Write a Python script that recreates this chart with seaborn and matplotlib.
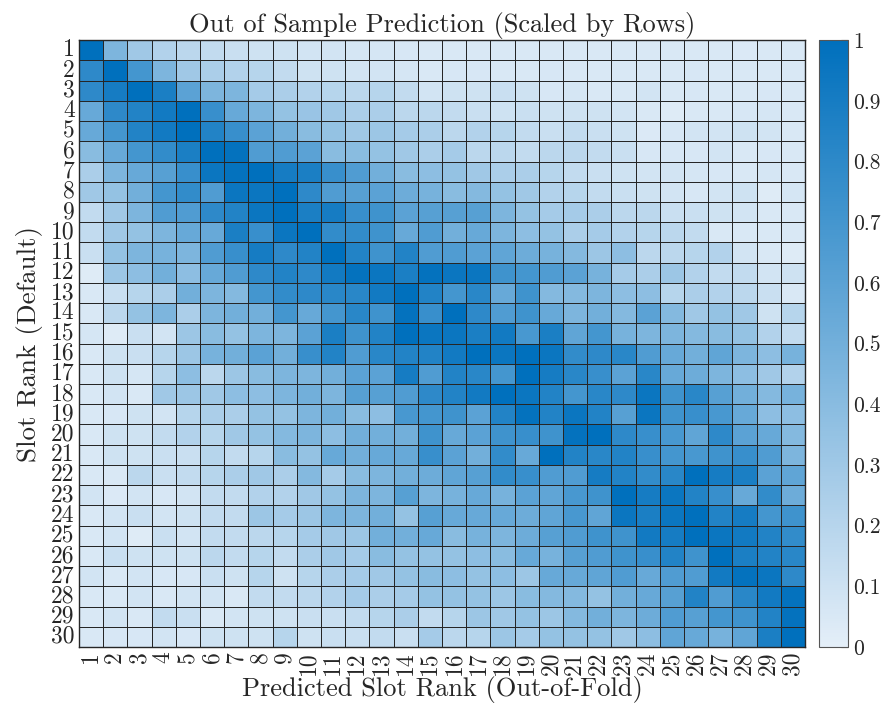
import numpy as np
import pandas as pd
import matplotlib
matplotlib.use("Agg")
import matplotlib.pyplot as plt
import seaborn as sns
from matplotlib.colors import LinearSegmentedColormap

sns.set_style("white")
plt.rcParams["font.family"] = ["cmr10", "DejaVu Serif"]
plt.rcParams["mathtext.fontset"] = "cm"
plt.rcParams["axes.unicode_minus"] = False

ranks = list(range(1, 31))

# rows 1-10
r01 = [1.0, 0.45, 0.3, 0.22, 0.18, 0.15, 0.12, 0.1, 0.1, 0.08, 0.08, 0.07, 0.07, 0.06, 0.05,
       0.05, 0.05, 0.05, 0.05, 0.05, 0.05, 0.05, 0.05, 0.05, 0.05, 0.05, 0.05, 0.04, 0.05, 0.05]
r02 = [0.8, 1.0, 0.7, 0.45, 0.3, 0.25, 0.22, 0.2, 0.15, 0.1, 0.1, 0.08, 0.08, 0.07, 0.05,
       0.06, 0.06, 0.05, 0.05, 0.06, 0.05, 0.05, 0.05, 0.05, 0.05, 0.06, 0.05, 0.05, 0.05, 0.05]
r03 = [0.8, 0.9, 1.0, 0.88, 0.6, 0.45, 0.45, 0.28, 0.25, 0.22, 0.2, 0.18, 0.2, 0.15, 0.08,
       0.1, 0.1, 0.12, 0.1, 0.06, 0.07, 0.05, 0.05, 0.08, 0.05, 0.06, 0.05, 0.05, 0.06, 0.05]
r04 = [0.55, 0.8, 0.85, 0.92, 1.0, 0.75, 0.55, 0.45, 0.35, 0.33, 0.3, 0.25, 0.25, 0.18, 0.18,
       0.15, 0.12, 0.1, 0.12, 0.1, 0.1, 0.1, 0.08, 0.05, 0.03, 0.05, 0.05, 0.06, 0.07, 0.05]
r05 = [0.55, 0.7, 0.85, 0.92, 1.0, 0.85, 0.75, 0.6, 0.5, 0.4, 0.35, 0.3, 0.32, 0.28, 0.25,
       0.18, 0.22, 0.2, 0.15, 0.12, 0.15, 0.12, 0.1, 0.04, 0.06, 0.08, 0.08, 0.1, 0.08, 0.05]
r06 = [0.4, 0.55, 0.7, 0.78, 0.88, 1.0, 0.98, 0.65, 0.65, 0.6, 0.4, 0.4, 0.35, 0.3, 0.25,
       0.28, 0.18, 0.18, 0.15, 0.18, 0.18, 0.15, 0.12, 0.06, 0.06, 0.06, 0.08, 0.05, 0.06, 0.05]
r07 = [0.25, 0.45, 0.55, 0.62, 0.75, 0.95, 0.98, 1.0, 0.9, 0.88, 0.75, 0.65, 0.5, 0.4, 0.38,
       0.35, 0.3, 0.25, 0.25, 0.2, 0.15, 0.12, 0.1, 0.08, 0.08, 0.07, 0.06, 0.05, 0.07, 0.05]
r08 = [0.3, 0.35, 0.5, 0.7, 0.78, 0.65, 0.95, 0.95, 1.0, 0.8, 0.65, 0.62, 0.6, 0.52, 0.48,
       0.4, 0.42, 0.35, 0.3, 0.22, 0.2, 0.15, 0.12, 0.1, 0.08, 0.06, 0.08, 0.1, 0.03, 0.07]
r09 = [0.15, 0.3, 0.45, 0.65, 0.65, 0.8, 0.85, 0.95, 1.0, 0.88, 0.9, 0.75, 0.72, 0.6, 0.62,
       0.62, 0.62, 0.45, 0.35, 0.28, 0.28, 0.25, 0.18, 0.18, 0.12, 0.12, 0.1, 0.08, 0.05, 0.05]
r10 = [0.15, 0.3, 0.35, 0.45, 0.55, 0.55, 0.88, 0.75, 0.95, 1.0, 0.78, 0.78, 0.72, 0.55, 0.65,
       0.5, 0.55, 0.45, 0.38, 0.35, 0.25, 0.28, 0.22, 0.2, 0.18, 0.15, 0.05, 0.05, 0.05, 0.05]
# rows 11-20
r11 = [0.12, 0.35, 0.45, 0.48, 0.45, 0.65, 0.75, 0.9, 0.8, 0.85, 1.0, 0.85, 0.72, 0.85, 0.65,
       0.65, 0.6, 0.58, 0.52, 0.48, 0.42, 0.32, 0.38, 0.18, 0.18, 0.2, 0.22, 0.08, 0.05, 0.03]
r12 = [0.03, 0.32, 0.38, 0.5, 0.38, 0.55, 0.65, 0.8, 0.85, 0.8, 0.92, 0.98, 0.95, 0.88, 0.98,
       0.95, 0.95, 0.72, 0.7, 0.65, 0.6, 0.48, 0.28, 0.25, 0.32, 0.22, 0.15, 0.15, 0.08, 0.1]
r13 = [0.05, 0.12, 0.2, 0.25, 0.5, 0.45, 0.42, 0.7, 0.78, 0.8, 0.82, 0.82, 0.92, 1.0, 0.85,
       0.7, 0.82, 0.55, 0.72, 0.42, 0.42, 0.45, 0.38, 0.38, 0.2, 0.25, 0.22, 0.18, 0.12, 0.05]
r14 = [0.05, 0.18, 0.35, 0.45, 0.25, 0.45, 0.5, 0.5, 0.7, 0.55, 0.7, 0.82, 0.72, 0.98, 0.75,
       1.0, 0.8, 0.65, 0.72, 0.55, 0.45, 0.5, 0.42, 0.6, 0.42, 0.3, 0.35, 0.3, 0.1, 0.2]
r15 = [0.07, 0.03, 0.12, 0.08, 0.32, 0.4, 0.35, 0.45, 0.45, 0.6, 0.88, 0.72, 0.85, 1.0, 0.95,
       0.95, 0.88, 0.92, 0.68, 0.88, 0.58, 0.7, 0.48, 0.45, 0.45, 0.42, 0.4, 0.35, 0.22, 0.15]
r16 = [0.05, 0.1, 0.12, 0.2, 0.32, 0.48, 0.5, 0.6, 0.5, 0.75, 0.85, 0.65, 0.82, 0.85, 0.85,
       0.92, 1.0, 0.95, 1.0, 0.95, 0.78, 0.8, 0.82, 0.65, 0.55, 0.5, 0.58, 0.45, 0.38, 0.48]
r17 = [0.05, 0.1, 0.07, 0.2, 0.38, 0.18, 0.32, 0.4, 0.45, 0.45, 0.5, 0.6, 0.6, 0.9, 0.65,
       0.85, 0.82, 0.7, 1.0, 0.9, 0.82, 0.75, 0.6, 0.82, 0.55, 0.52, 0.45, 0.38, 0.3, 0.22]
r18 = [0.05, 0.08, 0.05, 0.3, 0.32, 0.3, 0.38, 0.38, 0.45, 0.5, 0.45, 0.62, 0.62, 0.65, 0.8,
       0.85, 0.92, 1.0, 0.95, 0.85, 0.7, 0.82, 0.8, 0.95, 0.72, 0.82, 0.62, 0.5, 0.42, 0.48]
r19 = [0.05, 0.06, 0.1, 0.08, 0.2, 0.25, 0.25, 0.35, 0.35, 0.45, 0.5, 0.4, 0.38, 0.68, 0.7,
       0.72, 0.6, 0.85, 0.98, 0.85, 0.95, 0.85, 0.62, 0.95, 0.72, 0.75, 0.68, 0.55, 0.38, 0.38]
r20 = [0.05, 0.1, 0.1, 0.15, 0.22, 0.2, 0.3, 0.35, 0.42, 0.45, 0.38, 0.5, 0.5, 0.5, 0.72,
       0.55, 0.6, 0.72, 0.75, 0.72, 0.98, 1.0, 0.8, 0.75, 0.68, 0.58, 0.8, 0.6, 0.55, 0.42]
# rows 21-30
r21 = [0.05, 0.1, 0.1, 0.12, 0.12, 0.2, 0.15, 0.2, 0.4, 0.35, 0.55, 0.5, 0.55, 0.55, 0.75,
       0.6, 0.5, 0.78, 0.55, 1.0, 0.85, 0.82, 0.85, 0.75, 0.7, 0.68, 0.72, 0.75, 0.65, 0.45]
r22 = [0.05, 0.05, 0.18, 0.12, 0.15, 0.2, 0.25, 0.3, 0.25, 0.42, 0.28, 0.4, 0.45, 0.5, 0.52,
       0.58, 0.62, 0.78, 0.75, 0.65, 0.65, 0.9, 0.85, 0.78, 0.82, 1.0, 0.9, 0.88, 0.6, 0.58]
r23 = [0.08, 0.04, 0.08, 0.06, 0.08, 0.15, 0.15, 0.22, 0.22, 0.3, 0.35, 0.45, 0.45, 0.62, 0.45,
       0.48, 0.55, 0.48, 0.6, 0.58, 0.68, 0.72, 1.0, 0.9, 0.95, 0.85, 0.75, 0.55, 0.78, 0.52]
r24 = [0.05, 0.08, 0.12, 0.08, 0.1, 0.15, 0.15, 0.32, 0.28, 0.32, 0.45, 0.45, 0.5, 0.35, 0.62,
       0.55, 0.55, 0.55, 0.52, 0.58, 0.68, 0.58, 0.95, 0.88, 0.95, 1.0, 0.85, 0.9, 0.7, 0.72]
r25 = [0.05, 0.08, 0.03, 0.12, 0.08, 0.15, 0.15, 0.18, 0.2, 0.28, 0.3, 0.32, 0.5, 0.5, 0.55,
       0.4, 0.48, 0.45, 0.52, 0.62, 0.65, 0.72, 0.72, 0.92, 0.9, 1.0, 0.95, 0.92, 0.85, 0.78]
r26 = [0.05, 0.12, 0.1, 0.1, 0.1, 0.18, 0.15, 0.2, 0.15, 0.25, 0.3, 0.28, 0.4, 0.35, 0.35,
       0.35, 0.38, 0.4, 0.55, 0.48, 0.62, 0.65, 0.72, 0.75, 0.85, 0.72, 1.0, 0.88, 0.85, 0.82]
r27 = [0.08, 0.05, 0.08, 0.06, 0.06, 0.12, 0.1, 0.2, 0.1, 0.2, 0.25, 0.28, 0.3, 0.35, 0.4,
       0.38, 0.35, 0.38, 0.32, 0.55, 0.55, 0.58, 0.65, 0.55, 0.65, 0.65, 0.92, 0.98, 0.95, 0.8]
r28 = [0.05, 0.05, 0.08, 0.05, 0.08, 0.08, 0.05, 0.15, 0.15, 0.18, 0.22, 0.28, 0.25, 0.28, 0.35,
       0.35, 0.35, 0.32, 0.4, 0.42, 0.42, 0.35, 0.5, 0.55, 0.62, 0.85, 0.65, 0.82, 0.92, 0.98]
r29 = [0.05, 0.08, 0.05, 0.15, 0.12, 0.05, 0.08, 0.1, 0.1, 0.12, 0.12, 0.15, 0.2, 0.25, 0.15,
       0.2, 0.32, 0.3, 0.35, 0.32, 0.42, 0.5, 0.45, 0.52, 0.65, 0.62, 0.7, 0.72, 0.85, 0.98]
r30 = [0.05, 0.06, 0.06, 0.08, 0.06, 0.1, 0.1, 0.1, 0.2, 0.1, 0.12, 0.12, 0.15, 0.12, 0.28,
       0.18, 0.2, 0.32, 0.28, 0.35, 0.35, 0.35, 0.3, 0.38, 0.58, 0.55, 0.48, 0.58, 0.88, 1.0]

rows = [r01, r02, r03, r04, r05, r06, r07, r08, r09, r10,
        r11, r12, r13, r14, r15, r16, r17, r18, r19, r20,
        r21, r22, r23, r24, r25, r26, r27, r28, r29, r30]
df = pd.DataFrame(rows, index=ranks, columns=ranks)

cmap = LinearSegmentedColormap.from_list("blues", ["#e4eef8", "#0070bd"])

fig = plt.figure(figsize=(8.87, 7.13), dpi=100)
ax = fig.add_axes([0.089, 0.0926, 0.8185, 0.851])
cax = fig.add_axes([0.923, 0.0926, 0.033, 0.851])

sns.heatmap(df, ax=ax, cbar_ax=cax, cmap=cmap, vmin=0, vmax=1,
            linewidths=0.7, linecolor="#262626", square=False)

ax.set_title("Out of Sample Prediction (Scaled by Rows)", fontsize=19, pad=6)
ax.set_xlabel("Predicted Slot Rank (Out-of-Fold)", fontsize=19, labelpad=1)
ax.set_ylabel("Slot Rank (Default)", fontsize=19.5, labelpad=6)
ax.set_xticklabels(ranks, rotation=90, fontsize=17)
ax.set_yticklabels(ranks, rotation=0, fontsize=17)
ax.tick_params(length=0, pad=3)
for s in ax.spines.values():
    s.set_visible(True)
    s.set_color("#262626")
    s.set_linewidth(1.0)

cbar = ax.collections[0].colorbar
cbar.set_ticks([i / 10 for i in range(11)])
cbar.set_ticklabels(["0", "0.1", "0.2", "0.3", "0.4", "0.5", "0.6", "0.7", "0.8", "0.9", "1"])
cax.tick_params(labelsize=15.5, direction="in", length=5, color="#262626", pad=4)
cbar.outline.set_edgecolor("#555555")
cbar.outline.set_linewidth(0.8)

fig.savefig("out.png", dpi=100)
